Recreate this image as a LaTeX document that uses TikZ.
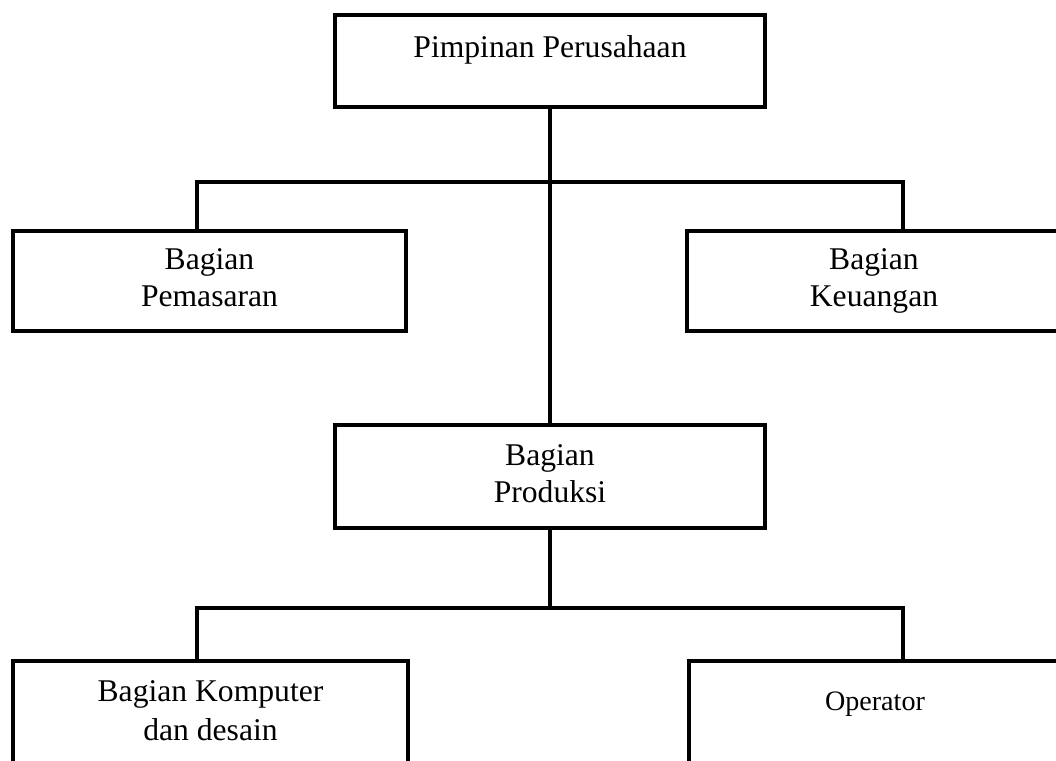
\documentclass[tikz,border=0pt]{standalone}
\usepackage{fontspec}
\setmainfont{Liberation Serif}
\usepackage{tikz}

\tikzset{
    kotak/.style={draw, line width=2.7pt, rectangle, align=center, inner sep=0pt,
        font=\fontsize{18}{21}\selectfont},
    duabaris/.style={kotak, text height=1.18cm, text depth=0.15cm},
    garis/.style={line width=2.7pt},
}

\begin{document}
\begin{tikzpicture}[x=0.02cm,y=-0.02cm]
    \clip (0,0) rectangle (1056,761);
    \fill[white] (0,0) rectangle (1056,761);

    \node[kotak, minimum width=8.6cm, text height=0.84cm, text depth=1.0cm] (pimpinan) at (550,61) {Pimpinan Perusahaan};
    \node[duabaris, minimum width=7.86cm, minimum height=2cm] (pemasaran) at (209.5,281) {Bagian\\Pemasaran};
    \node[duabaris, minimum width=7.48cm, minimum height=2cm] (keuangan) at (874,281) {Bagian\\Keuangan};
    \node[duabaris, minimum width=8.6cm, minimum height=2.06cm] (produksi) at (550,476.5) {Bagian\\Produksi};
    \node[duabaris, minimum width=7.9cm, minimum height=2.28cm, text height=1.22cm, text depth=0.34cm] (komputer) at (210.5,718) {Bagian Komputer\\[1pt]dan desain};
    \node[kotak, minimum width=7.44cm, text height=0.98cm, text depth=1.3cm, font=\fontsize{16}{19}\selectfont] (operator) at (875,718) {Operator};

    \coordinate (kiri1) at (197,182);
    \coordinate (kanan1) at (903,182);
    \coordinate (kiri2) at (197,608);
    \coordinate (kanan2) at (903,608);

    \draw[garis] (pimpinan.south) -- (produksi.north);
    \draw[garis] (kiri1 |- pemasaran.north) -- (kiri1) -- (kanan1) -- (kanan1 |- keuangan.north);
    \draw[garis] (produksi.south) -- (produksi.south |- kiri2);
    \draw[garis] (kiri2 |- komputer.north) -- (kiri2) -- (kanan2) -- (kanan2 |- operator.north);
\end{tikzpicture}
\end{document}
